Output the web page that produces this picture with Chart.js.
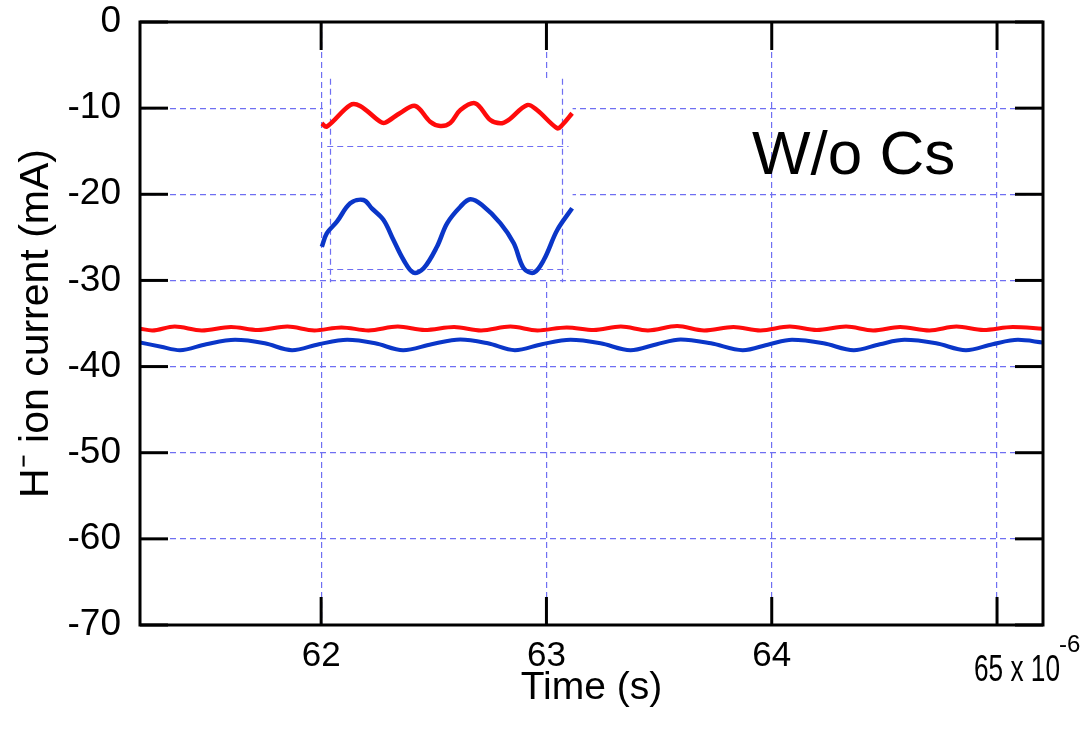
<!DOCTYPE html>
<html>
<head>
<meta charset="utf-8">
<script src="https://cdn.jsdelivr.net/npm/chart.js@4.4.1/dist/chart.umd.min.js"></script>
<style>
  html, body { margin: 0; padding: 0; background: #ffffff; }
  canvas { display: block; }
</style>
</head>
<body>
<canvas id="c" width="1081" height="734"></canvas>
<script>
// ---------------- data ----------------
const xTickValues = [62, 63, 64, 65];
const yTickValues = [0, -10, -20, -30, -40, -50, -60, -70];

// main traces (time in µs, current in mA)
const redTime = [61.196, 61.25, 61.35, 61.47, 61.60, 61.72, 61.85, 61.97, 62.09, 62.21, 62.34, 62.46, 62.59, 62.71, 62.84, 62.96, 63.09, 63.21, 63.33, 63.45, 63.58, 63.70, 63.83, 63.95, 64.08, 64.20, 64.33, 64.45, 64.57, 64.70, 64.82, 64.94, 65.07, 65.204];
const redCurrent = [-35.6, -35.8, -35.35, -35.8, -35.4, -35.75, -35.35, -35.8, -35.45, -35.8, -35.35, -35.75, -35.4, -35.8, -35.35, -35.8, -35.45, -35.75, -35.35, -35.8, -35.3, -35.8, -35.4, -35.8, -35.35, -35.75, -35.35, -35.8, -35.4, -35.8, -35.35, -35.75, -35.4, -35.6];

const blueTime = [61.196, 61.29, 61.373, 61.49, 61.618, 61.75, 61.871, 61.99, 62.116, 62.24, 62.364, 62.49, 62.618, 62.74, 62.860, 62.98, 63.107, 63.24, 63.373, 63.49, 63.596, 63.73, 63.871, 63.99, 64.090, 64.23, 64.364, 64.48, 64.590, 64.73, 64.862, 64.98, 65.093, 65.204];
const blueCurrent = [-37.2, -37.7, -38.1, -37.4, -36.9, -37.3, -38.1, -37.4, -36.9, -37.3, -38.1, -37.4, -36.85, -37.3, -38.1, -37.4, -36.9, -37.3, -38.1, -37.4, -36.85, -37.3, -38.1, -37.4, -36.9, -37.3, -38.1, -37.4, -36.9, -37.3, -38.1, -37.4, -36.9, -37.2];

// inset (magnified traces, plotted in the main axes' units)
const insetRedTime = [62.003, 62.025, 62.129, 62.173, 62.262, 62.284, 62.351, 62.418, 62.484, 62.529, 62.573, 62.618, 62.684, 62.751, 62.796, 62.831, 62.914, 62.958, 63.048, 63.070, 63.114];
const insetRedCurrent = [-11.76, -12.15, -9.64, -9.75, -11.57, -11.69, -10.56, -9.75, -11.57, -12.07, -11.72, -10.22, -9.44, -11.38, -11.76, -11.38, -9.64, -10.22, -12.34, -11.96, -10.60];

const insetBlueTime = [62.003, 62.025, 62.070, 62.129, 62.188, 62.225, 62.277, 62.321, 62.366, 62.410, 62.455, 62.514, 62.559, 62.618, 62.662, 62.714, 62.796, 62.855, 62.899, 62.944, 62.988, 63.048, 63.114];
const insetBlueCurrent = [-26.09, -24.53, -23.18, -21.05, -20.66, -21.63, -22.99, -25.31, -27.63, -29.10, -28.59, -26.09, -23.37, -21.44, -20.58, -21.24, -23.37, -25.69, -28.59, -29.10, -27.63, -24.15, -21.63];

// inset frame grid (in main-axis units)
const insetGridTime = [62.04, 63.067];
const insetGridCurrent = [-14.4, -28.67];

const toXY = (xs, ys) => xs.map((x, i) => ({ x: x, y: ys[i] }));

// ---------------- styles ----------------
const GRID = '#6f6ff2';
const RED = '#ff0b0b';
const BLUE = '#0a36c8';
const FONT = "'Liberation Sans', Arial, sans-serif";

const decoPlugin = {
  id: 'deco',
  beforeDatasetsDraw(chart) {
    const { ctx } = chart;
    const xs = chart.scales.x, ys = chart.scales.y;
    const L = xs.getPixelForValue(62.008), R = xs.getPixelForValue(63.116);
    const T = ys.getPixelForValue(-6.5), B = ys.getPixelForValue(-29.85);
    ctx.save();
    ctx.fillStyle = '#ffffff';
    ctx.fillRect(L, T, R - L, B - T);
    ctx.strokeStyle = GRID;
    ctx.lineWidth = 1.2;
    ctx.setLineDash([6, 4]);
    const gT = ys.getPixelForValue(-6.6), gB = ys.getPixelForValue(-30.2);
    insetGridTime.forEach(t => {
      const px = Math.round(xs.getPixelForValue(t)) + 0.5;
      ctx.beginPath(); ctx.moveTo(px, gT); ctx.lineTo(px, gB); ctx.stroke();
    });
    const gL = xs.getPixelForValue(62.027), gR = xs.getPixelForValue(63.098);
    insetGridCurrent.forEach(v => {
      const py = Math.round(ys.getPixelForValue(v)) + 0.5;
      ctx.beginPath(); ctx.moveTo(gL, py); ctx.lineTo(gR, py); ctx.stroke();
    });
    ctx.restore();
  },
  afterDatasetsDraw(chart) {
    const { ctx, chartArea: a } = chart;
    const xs = chart.scales.x, ys = chart.scales.y;
    ctx.save();
    ctx.strokeStyle = '#000';
    ctx.lineWidth = 3;
    ctx.setLineDash([]);
    const TL = 28;
    xTickValues.forEach(v => {
      const px = xs.getPixelForValue(v);
      ctx.beginPath(); ctx.moveTo(px, a.bottom); ctx.lineTo(px, a.bottom - TL); ctx.stroke();
      ctx.beginPath(); ctx.moveTo(px, a.top); ctx.lineTo(px, a.top + TL); ctx.stroke();
    });
    yTickValues.forEach(v => {
      const py = ys.getPixelForValue(v);
      ctx.beginPath(); ctx.moveTo(a.left, py); ctx.lineTo(a.left + TL, py); ctx.stroke();
      ctx.beginPath(); ctx.moveTo(a.right, py); ctx.lineTo(a.right - TL, py); ctx.stroke();
    });
    ctx.strokeRect(a.left, a.top, a.right - a.left, a.bottom - a.top);
    ctx.fillStyle = '#000';
    ctx.font = "62px " + FONT;
    ctx.textAlign = 'left';
    ctx.textBaseline = 'alphabetic';
    ctx.fillText('W/o Cs', 752, 174);
    ctx.restore();
  },
  afterDraw(chart) {
    // last x tick label with its exponent, set a little condensed as in the source
    const { ctx } = chart;
    ctx.save();
    ctx.fillStyle = '#000';
    ctx.textAlign = 'left';
    ctx.textBaseline = 'alphabetic';
    ctx.font = "36px " + FONT;
    const txt = '65 x 10';
    const w = ctx.measureText(txt).width;
    const target = 86;
    ctx.translate(974, 681);
    ctx.scale(target / w, 1);
    ctx.fillText(txt, 0, 0);
    ctx.restore();
    ctx.save();
    ctx.fillStyle = '#000';
    ctx.font = "24px " + FONT;
    ctx.textAlign = 'left';
    ctx.fillText('-6', 1059, 652);
    ctx.restore();
  }
};

new Chart(document.getElementById('c'), {
  type: 'line',
  data: {
    datasets: [
      { data: toXY(redTime, redCurrent), borderColor: RED, borderWidth: 4, pointRadius: 0, tension: 0.4, cubicInterpolationMode: 'monotone' },
      { data: toXY(blueTime, blueCurrent), borderColor: BLUE, borderWidth: 4, pointRadius: 0, tension: 0.4, cubicInterpolationMode: 'monotone' },
      { data: toXY(insetRedTime, insetRedCurrent), borderColor: RED, borderWidth: 4.5, pointRadius: 0, tension: 0.35 },
      { data: toXY(insetBlueTime, insetBlueCurrent), borderColor: BLUE, borderWidth: 4.5, pointRadius: 0, tension: 0.35 }
    ]
  },
  options: {
    responsive: false,
    animation: false,
    devicePixelRatio: 1,
    layout: { padding: { top: 22, right: 38, left: 0, bottom: 0 } },
    plugins: { legend: { display: false }, tooltip: { enabled: false } },
    scales: {
      x: {
        type: 'linear',
        min: 61.196, max: 65.204,
        afterFit(s) { s.height = 109; s.paddingLeft = 0; s.paddingRight = 0; },
        afterBuildTicks(s) { s.ticks = xTickValues.map(v => ({ value: v })); },
        grid: { color: GRID, lineWidth: 1.2, drawTicks: false },
        border: { display: false, dash: [6, 4] },
        ticks: { color: '#000', font: { family: FONT, size: 35 }, padding: 10, maxRotation: 0, autoSkip: false, callback: v => (v === 65 ? '' : String(v)) },
        title: { display: true, text: 'Time (s)', color: '#000', font: { family: FONT, size: 39 }, padding: { top: 0, bottom: 22 } }
      },
      y: {
        type: 'linear',
        min: -70, max: 0,
        afterFit(s) { s.width = 140; s.paddingTop = 0; s.paddingBottom = 0; },
        afterBuildTicks(s) { s.ticks = yTickValues.map(v => ({ value: v })); },
        grid: { color: GRID, lineWidth: 1.2, drawTicks: false },
        border: { display: false, dash: [6, 4] },
        ticks: { color: '#000', font: { family: FONT, size: 37 }, padding: 19, autoSkip: false, callback: v => String(v) },
        title: { display: true, text: 'H⁻ ion current (mA)', color: '#000', font: { family: FONT, size: 41 }, padding: { top: 12, bottom: 0 } }
      }
    }
  },
  plugins: [decoPlugin]
});
</script>
</body>
</html>
